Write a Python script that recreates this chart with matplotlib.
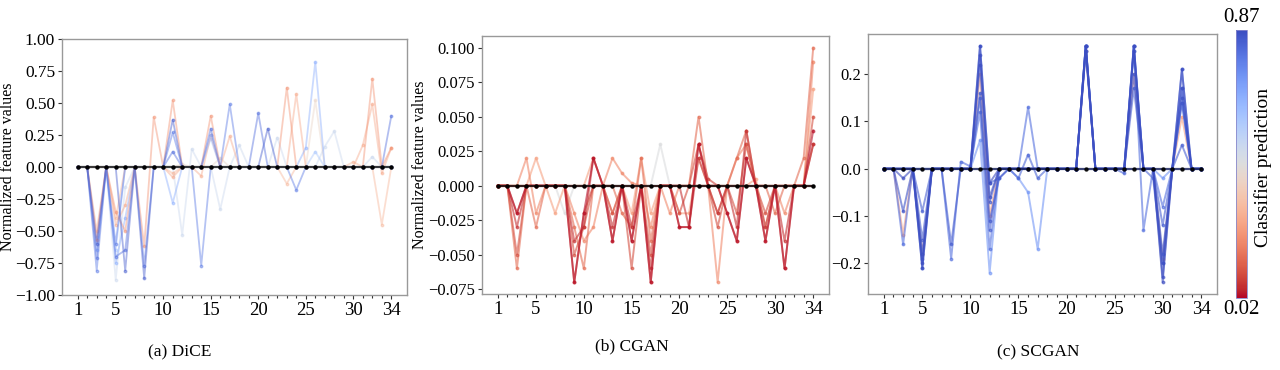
import numpy as np
import matplotlib
matplotlib.use("Agg")
import matplotlib.pyplot as plt
from matplotlib import cm, colors, ticker

plt.rcParams['font.family'] = ['Liberation Serif', 'DejaVu Serif']

features = list(range(1, 35))
xtick_labels = [1, 5, 10, 15, 20, 25, 30, 34]

# ---------------- DiCE ----------------
dice_preds = [0.84, 0.80, 0.78, 0.66, 0.22, 0.27, 0.30, 0.50, 0.40, 0.58]
dice_values = [
    [0, 0, -0.60, 0, 0, -0.81, 0, -0.87, 0, 0, 0.37, 0, 0, 0, 0, 0, 0, 0, 0, 0, 0.30, 0, 0, 0, 0, 0, 0, 0, 0, 0, 0, 0, 0, 0],
    [0, 0, -0.71, 0, -0.70, -0.65, 0, -0.77, 0, 0, 0.12, 0, 0, 0, 0.30, 0, 0, 0, 0, 0.42, 0, 0, 0, 0, 0, 0, 0, 0, 0, 0, 0, 0, 0, 0.40],
    [0, 0, -0.81, 0, -0.60, 0, 0, 0, 0, 0, 0.27, 0, 0, -0.77, 0, 0, 0.49, 0, 0, 0, 0, 0, 0, -0.18, 0, 0, 0, 0, 0, 0, 0, 0, 0, 0],
    [0, 0, -0.65, 0, -0.75, -0.40, 0, 0, 0, 0, -0.28, 0, 0, 0, 0.25, 0, 0, 0, 0, 0, 0, 0, 0, 0, 0.15, 0.82, 0, 0, 0, 0, 0, 0, 0, 0],
    [0, 0, -0.57, 0, -0.35, -0.50, 0, -0.62, 0.39, 0, 0.52, 0, 0, 0, 0.40, 0, 0, 0, 0, 0, 0, 0, 0.62, 0, 0, 0, 0, 0, 0, 0, 0, 0.69, 0, 0.15],
    [0, 0, -0.50, 0, -0.45, -0.30, 0, 0, 0, 0, -0.08, 0, 0, -0.07, 0.25, 0, 0.24, 0, 0, 0, 0, 0, 0, 0.57, 0, 0, 0, 0, 0, 0, 0.17, 0.49, -0.05, 0.15],
    [0, 0, 0, 0, -0.40, 0, 0, 0, 0, 0, -0.05, 0, 0, 0, 0, 0, 0, 0, 0, 0, 0, 0, -0.13, 0, 0, 0, 0, 0, 0, 0.04, 0, 0, -0.45, 0],
    [0, 0, 0, 0, -0.88, -0.16, 0, 0, 0, 0, 0, -0.53, 0.14, 0, 0, -0.33, 0, 0.17, 0, 0, 0, 0.23, 0, 0, 0, 0, 0.16, 0.28, 0, 0, 0, 0.08, 0, 0],
    [0, 0, 0, 0, 0, 0, 0, 0, 0, 0, 0, 0.02, 0, 0, 0, 0.07, 0, 0, 0, 0, 0, 0, 0, 0, 0, 0.52, 0, 0, 0, 0, 0, 0, 0, 0],
    [0, 0, -0.55, 0, -0.65, 0, 0, 0, 0, 0, 0, 0, 0, 0, 0.22, 0, 0, 0, 0, 0, 0, 0, 0, 0, 0, 0.12, 0, 0, 0, 0, 0, 0, 0, 0],
]

# ---------------- CGAN ----------------
cgan_preds = [0.03, 0.06, 0.10, 0.15, 0.20, 0.25, 0.08, 0.45]
cgan_values = [
    [0, 0, -0.02, 0, 0, 0, 0, 0, -0.07, -0.02, 0.02, 0, -0.04, 0, -0.04, 0, -0.07, 0, 0, -0.03, -0.03, 0.03, 0, 0, -0.02, -0.04, 0.02, 0, -0.04, 0, -0.06, 0, 0, 0.04],
    [0, 0, -0.03, 0, 0, 0, 0, 0, -0.04, -0.03, 0.02, 0, -0.03, 0, -0.03, 0, -0.06, 0, 0, 0, -0.03, 0.02, 0, -0.02, 0, -0.03, 0.04, 0, -0.03, 0, -0.04, 0, 0, 0.03],
    [0, 0, -0.05, 0, 0, 0, 0, 0, -0.05, -0.03, 0, 0, -0.02, 0, -0.06, 0, -0.05, 0, 0, -0.02, 0, 0.03, 0, -0.03, 0, -0.02, 0.03, 0, -0.02, 0, 0, 0, 0, 0.05],
    [0, 0, -0.06, 0, -0.03, 0, 0, 0, -0.03, -0.06, 0, 0, 0, -0.02, -0.03, 0.02, -0.04, 0, 0, 0, 0, 0.05, 0, -0.02, 0, 0.02, 0.04, 0, 0, -0.02, 0, 0, 0.02, 0.10],
    [0, 0, 0, 0.02, -0.02, 0, 0, 0, -0.02, -0.04, -0.03, 0, 0.02, 0.009, 0.002, 0, -0.03, 0, -0.02, 0, 0, 0, 0, -0.07, 0, 0.02, 0.03, 0, 0, 0, -0.02, 0, 0, 0.09],
    [0, 0, 0, 0, 0.02, 0, -0.02, 0, 0, 0, 0.02, 0, -0.02, 0, -0.02, 0.02, -0.02, 0, 0, -0.02, -0.02, 0.02, 0, 0, 0, 0, 0, 0.005, -0.03, 0, 0, 0, 0, 0.07],
    [0, 0, -0.02, 0, 0, 0, 0, 0, -0.07, -0.02, 0, 0, -0.04, 0, -0.04, 0, -0.07, 0, 0, -0.03, -0.03, 0.03, 0.005, 0, -0.02, -0.04, 0.02, 0, -0.04, 0, -0.06, 0, 0, 0.03],
    [0, 0, 0, 0, 0, 0, 0, -0.02, 0, 0, 0, 0, 0, 0, 0, 0, 0, 0.03, 0, 0, 0, 0, 0, 0, 0, 0, 0, 0, 0, 0, 0, 0, 0, 0],
]

# ---------------- SCGAN ----------------
scgan_preds = [0.87, 0.86, 0.85, 0.84, 0.83, 0.80, 0.72, 0.82, 0.25]
scgan_values = [
    [0, 0, -0.02, 0, -0.21, 0, 0, 0, 0, 0, 0.26, -0.03, 0, 0, 0, 0, 0, 0, 0, 0, 0, 0.26, 0, 0, 0, 0, 0.26, 0, 0, -0.24, 0, 0.21, 0, 0],
    [0, 0, -0.09, 0, -0.20, 0, 0, 0, 0, 0, 0.24, -0.06, 0, 0, 0, 0, 0, 0, 0, 0, 0, 0.26, 0, 0, 0, 0, 0.25, 0, 0, -0.23, 0, 0.17, 0, 0],
    [0, 0, 0, 0, -0.18, 0, 0, 0, 0, 0, 0.22, -0.07, 0, 0, 0, 0, 0, 0, 0, 0, 0, 0.25, 0, 0, 0, 0, 0.20, 0, 0, -0.20, 0, 0.15, 0, 0],
    [0, 0, 0, 0, -0.15, 0, 0, -0.16, 0, 0, 0.16, -0.11, -0.02, 0, 0, 0, 0, 0, 0, 0, 0, 0.26, 0, 0, 0, 0, 0.26, 0, 0, -0.18, 0, 0.14, 0, 0],
    [0, 0, 0, 0, -0.09, 0, 0, 0, 0, 0, 0.15, -0.13, 0, 0, 0, 0, 0, 0, 0, 0, 0, 0.26, 0, 0, 0, 0, 0.17, 0, 0, -0.12, 0, 0.05, 0, 0],
    [0, 0, -0.16, 0, -0.19, 0, 0, -0.19, 0.015, 0.005, 0.12, -0.17, 0, 0, 0, 0.13, 0, 0, 0, 0, 0, 0.25, 0, 0, 0, 0, 0.26, -0.13, 0, -0.08, 0, 0.17, 0, 0],
    [0, 0, 0, 0, 0, 0, 0, 0, 0, 0, 0.06, -0.22, 0, 0, -0.02, -0.05, -0.17, 0, 0, 0, 0, 0.26, 0, 0, 0, 0, 0.25, 0, 0, -0.02, 0, 0.14, 0, 0],
    [0, 0, 0, 0, -0.21, 0, 0, 0, 0, 0, 0.26, -0.03, -0.02, 0, -0.02, 0.03, -0.02, 0, 0, 0, 0, 0.26, 0, 0, 0, -0.01, 0.26, 0, -0.02, -0.20, 0, 0.21, 0, 0],
    [0, 0, -0.14, 0, -0.18, 0, 0, 0, 0, 0, 0.20, -0.10, 0, 0, 0, 0, 0, 0, 0, 0, 0, 0.25, 0, 0, 0, 0, 0.20, 0, 0, -0.19, 0, 0.11, 0, 0],
]

pred_min, pred_max = 0.02, 0.87
cmap = plt.get_cmap('coolwarm_r')
norm = colors.Normalize(vmin=pred_min, vmax=pred_max)

fig = plt.figure(figsize=(12.8, 3.7), dpi=100)
W, H = 1280.0, 370.0

def ax_at(l, t, r, b):
    return fig.add_axes([l / W, 1 - b / H, (r - l) / W, (b - t) / H])

ax1 = ax_at(62, 39, 407, 295)
ax2 = ax_at(482, 36, 829, 294)
ax3 = ax_at(868, 34, 1217, 294)
cax = ax_at(1236, 30, 1247, 298)

def minus_fmt(fmt):
    def f(v, pos):
        s = fmt % v
        if s.startswith('-'):
            s = '\u2212' + s[1:]
        return s
    return ticker.FuncFormatter(f)

def draw(ax, preds, values, alpha, lw, base_color, base_alpha):
    order = np.argsort(np.abs(np.array(preds) - 0.45))
    for i in order:
        c = cmap(norm(preds[i]))
        ax.plot(features, values[i], color=c, alpha=alpha, lw=lw, marker='o',
                ms=1.8, zorder=2)
    ax.plot(features, [0] * len(features), color=base_color, alpha=base_alpha,
            lw=1.6, marker='o', ms=2.2, mfc='black', mec='black', zorder=3)
    ax.set_xticks(xtick_labels)
    ax.set_xticklabels([str(v) for v in xtick_labels])
    ax.set_xticks(features, minor=True)
    ax.tick_params(axis='y', which='major', labelsize=12, length=3,
                   width=0.8, color='#333333', pad=2)
    ax.tick_params(axis='x', which='major', labelsize=13.5, length=3,
                   width=0.8, color='#333333', pad=2)
    ax.tick_params(axis='x', which='minor', length=2, width=0.8, color='#333333')
    for s in ax.spines.values():
        s.set_color('#999999')
        s.set_linewidth(1.0)

draw(ax1, dice_preds, dice_values, 0.45, 1.3, '#333333', 0.95)
ax1.set_ylim(-1.0, 1.0)
ax1.set_yticks([-1.0, -0.75, -0.5, -0.25, 0, 0.25, 0.5, 0.75, 1.0])
ax1.yaxis.set_major_formatter(minus_fmt('%.2f'))
ax1.tick_params(axis='y', labelsize=12.5)
ax1.set_ylabel('Normalized feature values', fontsize=11.5)
ax1.yaxis.set_label_coords((16 - 62) / 345.0, 0.5)

draw(ax2, cgan_preds, cgan_values, 0.6, 1.4, '#2a1414', 0.95)
ax2.set_yticks([-0.075, -0.05, -0.025, 0, 0.025, 0.05, 0.075, 0.1])
ax2.yaxis.set_major_formatter(minus_fmt('%.3f'))
ax2.set_ylabel('Normalized feature values', fontsize=11.5)
ax2.yaxis.set_label_coords((428 - 482) / 347.0, 0.5)

draw(ax3, scgan_preds, scgan_values, 0.6, 1.4, '#1c2660', 0.85)
ax3.set_yticks([-0.2, -0.1, 0, 0.1, 0.2])
ax3.yaxis.set_major_formatter(minus_fmt('%.1f'))

sm = cm.ScalarMappable(norm=norm, cmap=cmap)
cb = fig.colorbar(sm, cax=cax)
cb.set_ticks([])
cb.outline.set_edgecolor('#8888cc')
cb.outline.set_linewidth(0.6)
fig.text(1241.5 / W, 1 - 17 / H, '0.87', ha='center', va='center', fontsize=15)
fig.text(1241.5 / W, 1 - 309 / H, '0.02', ha='center', va='center', fontsize=15)
fig.text(1263 / W, 1 - 167 / H, 'Classifier prediction', rotation=90,
         ha='center', va='center', fontsize=14)

fig.text(180 / W, 1 - 352 / H, '(a) DiCE', ha='center', va='center', fontsize=12.5)
fig.text(632 / W, 1 - 346 / H, '(b) CGAN', ha='center', va='center', fontsize=12.5)
fig.text(1038 / W, 1 - 352 / H, '(c) SCGAN', ha='center', va='center', fontsize=12.5)

fig.savefig('out.png', dpi=100)
